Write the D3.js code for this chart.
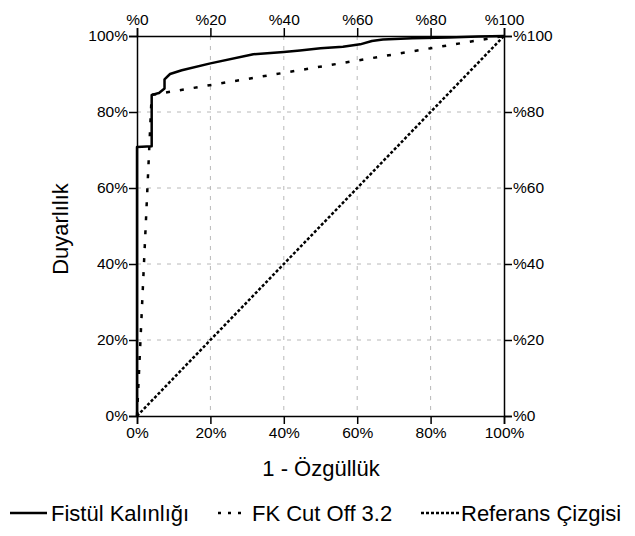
<!DOCTYPE html>
<html><head><meta charset="utf-8">
<script src="https://cdn.jsdelivr.net/npm/d3@7"></script>
<style>body{margin:0;background:#fff}svg{display:block}text{font-family:"Liberation Sans",Arial,sans-serif;fill:#000}</style>
</head><body><svg id="c" width="635" height="536"></svg>
<script>
const ticks = [0, 0.2, 0.4, 0.6, 0.8, 1];
const fistulFpr  = [0, 0, 0.04, 0.04, 0.06, 0.075, 0.075, 0.09, 0.122, 0.2, 0.317, 0.4, 0.444, 0.5, 0.561, 0.608, 0.64, 0.67, 0.75, 0.85, 0.93, 1];
const fistulSens = [0, 0.708, 0.71, 0.845, 0.85, 0.862, 0.886, 0.9, 0.91, 0.928, 0.952, 0.958, 0.962, 0.968, 0.972, 0.978, 0.987, 0.991, 0.994, 0.996, 0.999, 1];
const cutFpr  = [0, 0.04, 1];
const cutSens = [0, 0.845, 1];
const refFpr  = [0, 1];
const refSens = [0, 1];
const legendLabels = ["Fistül Kalınlığı", "FK Cut Off 3.2", "Referans Çizgisi"];

const L = 137, R = 504, T = 36, B = 416;
const svg = d3.select("#c");
const x = d3.scaleLinear().domain([0, 1]).range([L, R]);
const y = d3.scaleLinear().domain([0, 1]).range([B, T]);

// grid
const g = svg.append("g");
ticks.filter(t => t > 0 && t < 1).forEach(t => {
  g.append("line").attr("x1", x(t)).attr("x2", x(t)).attr("y1", T).attr("y2", B)
    .attr("stroke", "#b8b8b8").attr("stroke-width", 1).attr("stroke-dasharray", "4,6");
  g.append("line").attr("y1", y(t)).attr("y2", y(t)).attr("x1", L).attr("x2", R)
    .attr("stroke", "#b8b8b8").attr("stroke-width", 1).attr("stroke-dasharray", "4,6");
});

const pctR = d => Math.round(d * 100) + "%";
const pctL = d => "%" + Math.round(d * 100);

function styleAxis(sel) {
  sel.select(".domain").attr("stroke", "#000").attr("stroke-width", 1.5);
  sel.selectAll(".tick line").attr("stroke", "#000").attr("stroke-width", 1.5);
  sel.selectAll("text").style("font-size", "15.5px").style("font-family", '"Liberation Sans",Arial,sans-serif').attr("fill", "#000");
}
svg.append("g").attr("transform", `translate(0,${B})`)
  .call(d3.axisBottom(x).tickValues(ticks).tickFormat(pctR).tickSizeOuter(0).tickSize(8).tickPadding(3)).call(styleAxis);
svg.append("g").attr("transform", `translate(0,${T})`)
  .call(d3.axisTop(x).tickValues(ticks).tickFormat(pctL).tickSizeOuter(0).tickSize(8).tickPadding(3)).call(styleAxis);
svg.append("g").attr("transform", `translate(${L},0)`)
  .call(d3.axisLeft(y).tickValues(ticks).tickFormat(pctR).tickSizeOuter(0).tickSize(8).tickPadding(1)).call(styleAxis);
svg.append("g").attr("transform", `translate(${R},0)`)
  .call(d3.axisRight(y).tickValues(ticks).tickFormat(pctL).tickSizeOuter(0).tickSize(8).tickPadding(1)).call(styleAxis);

const line = d3.line().x(d => x(d[0])).y(d => y(d[1]));
const zip = (a, b) => a.map((v, i) => [v, b[i]]);

svg.append("path").datum(zip(refFpr, refSens)).attr("d", line)
  .attr("fill", "none").attr("stroke", "#000").attr("stroke-width", 2.5).attr("stroke-dasharray", "3,2");
svg.append("path").datum(zip(cutFpr, cutSens)).attr("d", line)
  .attr("fill", "none").attr("stroke", "#000").attr("stroke-width", 2.5).attr("stroke-dasharray", "4,10");
svg.append("path").datum(zip(fistulFpr, fistulSens)).attr("d", line)
  .attr("fill", "none").attr("stroke", "#000").attr("stroke-width", 2.5).attr("stroke-linejoin", "round");

// axis titles
svg.append("text").attr("x", 321).attr("y", 476).attr("text-anchor", "middle")
  .style("font-size", "22px").text("1 - Özgüllük");
svg.append("text").attr("transform", "translate(68,229) rotate(-90)").attr("text-anchor", "middle")
  .style("font-size", "22px").text("Duyarlılık");

// legend
const leg = svg.append("g");
const ly = 513;
const legItems = [
  {x1: 10, x2: 47, tx: 51, dash: null},
  {x1: 218, x2: 248, tx: 252, dash: "3,7"},
  {x1: 421, x2: 459, tx: 461, dash: "3,2"}
];
legItems.forEach((it, i) => {
  leg.append("line").attr("x1", it.x1).attr("x2", it.x2).attr("y1", ly).attr("y2", ly)
    .attr("stroke", "#000").attr("stroke-width", 2.5).attr("stroke-dasharray", it.dash);
  leg.append("text").attr("x", it.tx).attr("y", ly + 8)
    .style("font-size", "22px").text(legendLabels[i]);
});
</script></body></html>
